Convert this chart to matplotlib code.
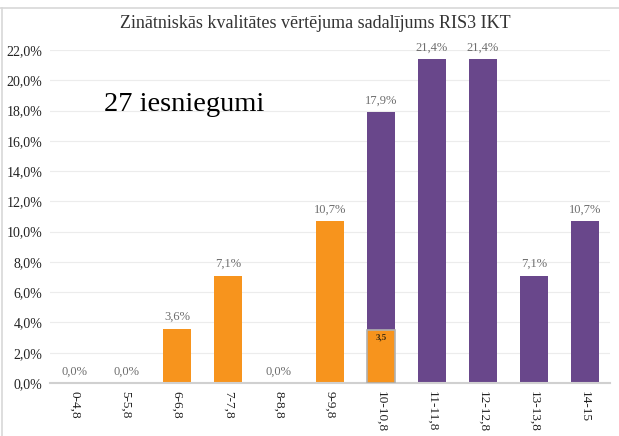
import numpy as np
import matplotlib
matplotlib.use('Agg')
import matplotlib.pyplot as plt
from matplotlib.lines import Line2D

#------------------------------------------------------------------------------#
# Data
#------------------------------------------------------------------------------#
categories = ['0-4,8', '5-5,8', '6-6,8', '7-7,8', '8-8,8', '9-9,8',
              '10-10,8', '11-11,8', '12-12,8', '13-13,8', '14-15']
orange_vals = [0.0, 0.0, 3.6, 7.1, 0.0, 10.7, 3.5, 0.0, 0.0, 0.0, 0.0]
purple_vals = [0.0, 0.0, 0.0, 0.0, 0.0, 0.0, 14.4, 21.4, 21.4, 7.1, 10.7]
total_labels = ['0,0%', '0,0%', '3,6%', '7,1%', '0,0%', '10,7%',
                '17,9%', '21,4%', '21,4%', '7,1%', '10,7%']
yticks = [0, 2, 4, 6, 8, 10, 12, 14, 16, 18, 20, 22]

title = 'Zinātniskās kvalitātes vērtējuma sadalījums RIS3 IKT'
note = '27 iesniegumi'

orange = '#F7941D'
purple = '#69478B'

plt.rcParams['font.family'] = ['Liberation Serif', 'DejaVu Serif']

#------------------------------------------------------------------------------#
# Plot
#------------------------------------------------------------------------------#
fig = plt.figure(figsize=(6.19, 4.36), dpi=100)
ax = fig.add_axes([49.5 / 619, 1 - 383 / 436, 561 / 619, 333 / 436])

x = np.arange(len(categories))
orange_arr = np.array(orange_vals)
purple_arr = np.array(purple_vals)
totals = orange_arr + purple_arr

ax.bar(x, orange_arr, width=0.55, color=orange, zorder=2)
ax.bar(x, purple_arr, width=0.55, bottom=orange_arr, color=purple, zorder=2)

# mixed bar gets a gray outline on the orange part
mixed = 6
ax.bar(x[mixed], orange_arr[mixed], width=0.55, color=orange,
       edgecolor='#b0b0b0', linewidth=1.2, zorder=3)
ax.text(x[mixed], orange_arr[mixed] - 0.25, '3,5', ha='center', va='top',
        fontsize=6.5, fontweight='bold', color='#3a2a10', zorder=4)

for xi, t, lab in zip(x, totals, total_labels):
    ax.text(xi, t + 0.35, lab, ha='center', va='bottom',
            fontsize=9, color='#6e6e6e', zorder=4)

ax.set_xlim(-0.5, len(categories) - 0.5)
ax.set_ylim(0, 22)
ax.set_yticks(yticks)
ax.set_yticklabels(['{:.1f}%'.format(v).replace('.', ',') for v in yticks],
                   fontsize=10, color='#222222')
ax.set_xticks(x)
ax.set_xticklabels(categories, rotation=270, fontsize=9.5, color='#222222')
ax.tick_params(axis='both', length=0, pad=6)
ax.tick_params(axis='y', pad=5)

ax.grid(axis='y', color='#ececec', linewidth=0.8, zorder=0)
ax.set_axisbelow(True)
for s in ['top', 'right', 'left']:
    ax.spines[s].set_visible(False)
ax.spines['bottom'].set_color('#d0d0d0')
ax.spines['bottom'].set_linewidth(1.5)

fig.text(315 / 619, 1 - 24 / 436, title, ha='center', va='center',
         fontsize=13, color='#333333')
ax.text(0.24, 0.835, note, transform=ax.transAxes, ha='center', va='center',
        fontsize=20.5, color='black')

# light frame at top and left edge of the picture
fig.add_artist(Line2D([0, 1], [1 - 8 / 436, 1 - 8 / 436], color='#d8d8d8',
                      linewidth=1.2, transform=fig.transFigure))
fig.add_artist(Line2D([1.5 / 619, 1.5 / 619], [0, 1 - 8 / 436], color='#d8d8d8',
                      linewidth=1.2, transform=fig.transFigure))

fig.savefig('out.png', dpi=100)
